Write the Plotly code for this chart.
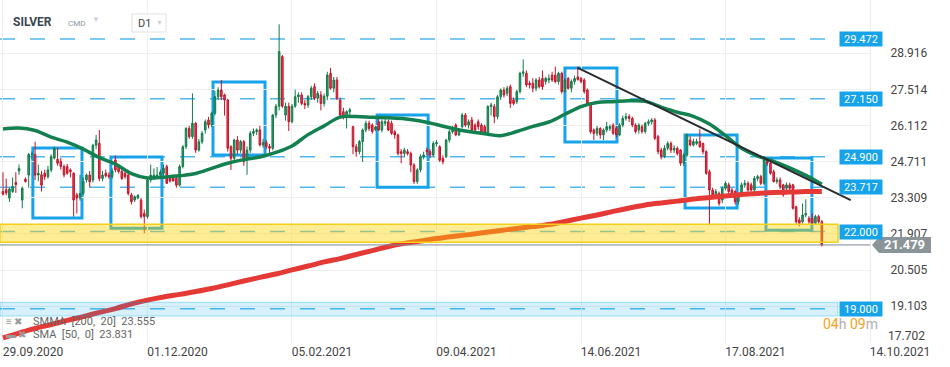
import plotly.graph_objects as go

# ---------------- data ----------------
opens = [23.55, 23.62, 23.30, 23.55, 23.90, 24.35, 23.22, 24.03, 24.19, 24.99,
         24.99, 24.19, 24.20, 24.26, 24.13, 24.39, 24.85, 24.80, 24.72, 24.52,
         24.52, 24.39, 24.26, 23.42, 23.30, 23.48, 24.00, 24.19, 24.00, 25.35,
         25.42, 24.06, 24.26, 24.19, 24.13, 24.78, 24.52, 24.33, 24.26, 24.19,
         23.42, 23.22, 23.30, 23.22, 22.70, 22.58, 24.00, 24.06, 24.13, 24.19,
         24.26, 24.52, 24.09, 24.09, 24.06, 23.80, 24.52, 25.29, 26.00, 25.68,
         26.20, 25.16, 25.48, 25.94, 26.33, 26.14, 26.59, 27.23, 27.49, 27.30,
         27.10, 25.29, 24.84, 25.55, 25.16, 25.49, 24.78, 25.16, 25.81, 25.88,
         25.94, 25.36, 25.45, 25.30, 25.23, 26.52, 26.86, 28.79, 26.52, 26.86,
         26.26, 26.86, 27.23, 27.30, 26.97, 26.91, 27.23, 27.62, 27.17, 27.30,
         26.97, 27.25, 28.14, 27.56, 27.88, 27.10, 26.65, 26.46, 26.65, 26.07,
         25.29, 25.10, 25.49, 25.94, 26.20, 26.13, 25.95, 26.26, 25.94, 26.20,
         26.26, 26.20, 25.87, 25.75, 25.10, 25.03, 25.10, 25.03, 24.58, 23.94,
         24.39, 24.90, 25.16, 25.10, 24.97, 25.40, 25.29, 24.84, 24.90, 25.55,
         25.87, 26.13, 25.75, 26.07, 26.52, 26.13, 26.33, 26.13, 26.26, 26.13,
         26.07, 25.81, 26.85, 26.85, 26.46, 27.23, 27.49, 27.36, 27.62, 27.10,
         27.04, 27.43, 28.14, 28.14, 27.75, 27.75, 27.56, 27.88, 27.94, 27.82,
         27.88, 28.07, 28.07, 27.82, 28.14, 27.43, 27.94, 27.56, 27.82, 28.00,
         27.94, 27.88, 27.49, 26.97, 25.94, 25.81, 26.00, 25.75, 25.94, 26.00,
         26.13, 26.00, 25.75, 26.13, 26.39, 26.46, 26.39, 26.13, 25.94, 26.07,
         25.88, 26.20, 26.26, 26.33, 25.68, 25.16, 24.91, 25.23, 25.42, 25.16,
         25.23, 25.16, 24.65, 24.97, 25.55, 25.36, 25.42, 25.49, 25.42, 25.10,
         24.32, 23.61, 23.42, 23.48, 23.22, 23.68, 23.81, 23.61, 23.55, 23.16,
         23.42, 23.81, 23.87, 23.81, 23.61, 24.06, 24.13, 23.87, 24.78, 24.65,
         24.32, 23.94, 24.00, 23.81, 23.68, 23.81, 23.81, 22.96, 22.45, 22.38,
         22.64, 22.51, 22.51, 22.32, 22.58, 22.38]
highs = [24.30, 24.05, 23.70, 24.10, 24.30, 24.60, 23.75, 24.10, 25.05, 25.10,
         25.49, 24.60, 24.35, 24.40, 24.55, 25.00, 25.30, 25.25, 24.85, 24.60,
         24.62, 24.45, 24.30, 23.50, 24.20, 24.10, 24.25, 24.35, 25.40, 25.75,
         25.94, 24.35, 24.40, 24.30, 24.45, 24.95, 24.60, 24.45, 24.35, 24.25,
         23.50, 23.40, 23.45, 23.30, 22.85, 24.05, 24.60, 24.45, 24.50, 24.40,
         24.60, 24.60, 24.15, 24.20, 24.15, 24.60, 25.35, 26.05, 26.10, 27.36,
         26.25, 25.60, 25.90, 26.35, 26.45, 26.65, 27.45, 27.60, 27.88, 27.35,
         27.15, 25.35, 25.60, 25.70, 25.55, 25.55, 25.30, 25.90, 26.00, 26.00,
         26.10, 25.60, 25.55, 25.40, 26.55, 26.95, 30.04, 28.85, 27.00, 27.00,
         26.95, 27.50, 27.40, 27.40, 27.10, 27.30, 27.65, 27.75, 27.45, 27.45,
         27.35, 28.20, 28.35, 28.00, 28.00, 27.20, 26.80, 26.70, 26.80, 26.10,
         25.40, 25.55, 26.00, 26.30, 26.30, 26.20, 26.10, 26.40, 26.35, 26.45,
         26.35, 26.30, 25.95, 25.80, 25.20, 25.25, 25.20, 25.10, 24.65, 24.45,
         25.00, 25.10, 25.25, 25.20, 25.50, 25.55, 25.35, 24.95, 25.60, 25.95,
         26.10, 26.20, 26.00, 26.60, 26.60, 26.35, 26.45, 26.20, 26.35, 26.20,
         26.15, 26.90, 27.00, 26.95, 27.30, 27.55, 27.60, 27.65, 27.70, 27.20,
         27.50, 28.20, 28.68, 28.25, 27.85, 27.95, 27.95, 28.00, 28.25, 28.00,
         28.10, 28.20, 28.40, 28.20, 28.20, 27.95, 28.00, 27.90, 28.05, 28.40,
         28.00, 27.95, 27.55, 27.00, 26.00, 26.10, 26.05, 26.00, 26.25, 26.15,
         26.20, 26.10, 26.20, 26.50, 26.60, 26.55, 26.45, 26.20, 26.20, 26.15,
         26.25, 26.35, 26.40, 26.40, 25.75, 25.25, 25.35, 25.50, 25.50, 25.35,
         25.30, 25.20, 25.05, 25.80, 25.70, 25.60, 25.60, 25.97, 25.45, 25.15,
         24.40, 23.70, 23.65, 23.55, 23.75, 23.95, 23.90, 23.70, 23.60, 23.50,
         23.90, 24.00, 23.95, 23.90, 24.15, 24.20, 24.20, 24.85, 24.85, 24.75,
         24.40, 24.10, 24.10, 23.85, 23.90, 23.90, 23.85, 23.00, 22.55, 23.09,
         23.25, 22.60, 22.70, 22.65, 22.65, 22.45]
lows = [23.40, 23.40, 23.15, 23.50, 23.50, 24.20, 22.90, 23.90, 23.70, 24.80,
        24.00, 23.95, 23.55, 24.00, 24.05, 24.30, 24.80, 24.55, 24.40, 24.10,
        24.20, 24.10, 22.58, 22.70, 23.20, 23.40, 23.90, 23.70, 23.90, 25.20,
        23.95, 23.95, 24.10, 24.05, 24.05, 24.30, 24.25, 24.00, 24.05, 23.40,
        23.05, 23.15, 23.25, 22.50, 21.93, 22.50, 23.90, 24.00, 24.05, 24.10,
        24.15, 23.85, 23.90, 23.95, 23.70, 23.75, 24.45, 25.20, 25.60, 25.60,
        25.05, 25.10, 25.40, 25.80, 26.00, 26.05, 26.50, 27.10, 27.10, 26.50,
        25.10, 24.39, 24.70, 25.00, 25.05, 24.55, 24.20, 25.05, 25.70, 25.75,
        25.30, 25.25, 25.20, 24.95, 25.15, 26.40, 26.70, 26.80, 26.30, 25.90,
        26.20, 26.80, 27.00, 26.90, 26.75, 26.80, 27.10, 27.10, 27.00, 26.70,
        26.85, 27.10, 27.50, 27.40, 27.10, 26.40, 26.35, 26.00, 26.40, 25.00,
        24.90, 25.00, 24.70, 25.85, 25.90, 25.80, 25.90, 25.90, 25.85, 26.10,
        25.90, 25.75, 25.60, 24.95, 24.65, 24.90, 24.95, 24.30, 23.85, 23.85,
        24.30, 24.80, 24.95, 24.85, 24.90, 25.30, 24.70, 24.60, 24.85, 25.45,
        25.80, 25.70, 25.70, 26.00, 26.05, 26.00, 25.85, 25.80, 25.95, 25.80,
        25.75, 25.75, 26.50, 26.20, 26.35, 27.10, 27.20, 27.25, 26.80, 26.90,
        26.95, 27.35, 28.00, 27.60, 27.55, 27.40, 27.45, 27.55, 27.50, 27.70,
        27.75, 27.80, 27.75, 27.70, 27.35, 27.40, 27.50, 27.40, 27.70, 27.85,
        27.75, 27.35, 26.90, 25.80, 25.55, 25.70, 25.60, 25.55, 25.85, 25.90,
        25.75, 25.65, 25.70, 26.05, 26.30, 26.25, 26.05, 25.80, 25.80, 25.80,
        25.80, 26.10, 26.15, 25.55, 25.00, 24.80, 24.85, 25.15, 25.05, 25.05,
        24.95, 24.55, 24.55, 24.90, 25.30, 25.30, 25.35, 25.25, 25.00, 24.20,
        22.25, 23.30, 23.30, 23.00, 23.10, 23.60, 23.45, 23.35, 23.05, 23.05,
        23.35, 23.70, 23.55, 23.55, 23.55, 23.95, 23.80, 23.80, 24.55, 24.20,
        23.90, 23.85, 23.65, 23.35, 23.55, 23.60, 22.85, 22.30, 22.20, 22.30,
        22.55, 22.30, 22.25, 22.25, 22.30, 21.42]
closes = [23.45, 23.50, 23.65, 23.75, 23.82, 24.45, 23.68, 23.94, 24.99, 25.00,
          24.19, 24.26, 23.80, 24.13, 24.39, 24.91, 25.22, 24.65, 24.52, 24.20,
          24.26, 24.33, 23.22, 23.30, 23.48, 23.95, 24.19, 23.93, 25.35, 25.55,
          24.06, 24.19, 24.16, 24.13, 24.35, 24.39, 24.33, 24.06, 24.13, 23.48,
          23.16, 23.35, 23.40, 22.58, 22.58, 24.00, 24.19, 24.19, 24.19, 24.30,
          24.45, 23.87, 23.96, 23.96, 23.80, 24.52, 25.29, 26.00, 25.68, 26.20,
          25.16, 25.48, 25.81, 26.26, 26.14, 26.59, 27.23, 27.49, 27.23, 27.10,
          25.23, 24.84, 25.55, 25.16, 25.49, 24.71, 25.16, 25.81, 25.88, 25.94,
          25.36, 25.45, 25.30, 25.23, 26.52, 26.86, 28.98, 26.86, 26.86, 26.26,
          26.86, 27.23, 27.30, 26.97, 26.91, 27.23, 27.56, 27.17, 27.36, 26.97,
          27.25, 28.07, 27.56, 27.88, 27.17, 26.52, 26.46, 26.65, 26.72, 25.29,
          25.10, 25.49, 25.94, 26.20, 26.00, 25.88, 26.05, 25.94, 26.26, 26.26,
          25.94, 25.81, 25.75, 25.03, 25.03, 25.16, 25.03, 24.58, 23.94, 24.39,
          24.90, 24.97, 25.10, 24.97, 25.42, 25.45, 24.77, 24.71, 25.55, 25.87,
          26.00, 25.75, 25.94, 26.52, 26.13, 26.26, 25.94, 25.94, 26.07, 25.87,
          25.81, 26.85, 26.91, 26.46, 27.23, 27.49, 27.30, 27.56, 26.97, 26.97,
          27.43, 28.14, 28.20, 27.69, 27.69, 27.56, 27.88, 27.62, 27.62, 27.94,
          27.94, 27.88, 27.82, 28.14, 27.43, 27.88, 27.56, 27.82, 27.94, 27.90,
          27.82, 27.43, 26.97, 25.87, 25.81, 26.00, 25.75, 25.94, 26.07, 26.07,
          25.81, 25.75, 26.13, 26.39, 26.46, 26.39, 26.13, 25.88, 26.13, 25.88,
          26.20, 26.26, 26.33, 25.62, 25.10, 24.91, 25.23, 25.42, 25.16, 25.23,
          25.03, 24.65, 24.97, 25.75, 25.36, 25.49, 25.49, 25.29, 25.10, 24.26,
          23.61, 23.42, 23.55, 23.09, 23.68, 23.87, 23.55, 23.42, 23.16, 23.42,
          23.81, 23.87, 23.61, 23.61, 24.06, 24.13, 23.87, 24.78, 24.65, 24.26,
          23.94, 24.00, 23.74, 23.42, 23.81, 23.68, 22.90, 22.38, 22.32, 22.64,
          22.70, 22.38, 22.32, 22.58, 22.38, 21.479]

# indicator values, sampled every 5th bar
indicator_bars = list(range(0, 256, 5))
sma50 = [25.98, 26.02, 25.92, 25.66, 25.47, 25.20, 24.87, 24.62, 24.25, 24.08,
         24.11, 24.16, 24.25, 24.45, 24.65, 24.79, 24.89, 25.07, 25.32, 25.76,
         26.10, 26.44, 26.46, 26.43, 26.41, 26.38, 26.29, 26.15, 26.00, 25.88,
         25.79, 25.72, 25.88, 26.08, 26.25, 26.55, 26.85, 27.01, 27.04, 27.07,
         27.05, 26.83, 26.63, 26.47, 26.17, 25.72, 25.23, 24.93, 24.72, 24.47,
         24.18, 23.831]
smma200 = [17.87, 18.06, 18.24, 18.39, 18.55, 18.70, 18.86, 19.01, 19.19, 19.34,
           19.46, 19.56, 19.67, 19.79, 19.93, 20.08, 20.22, 20.35, 20.51, 20.66,
           20.82, 20.95, 21.11, 21.26, 21.42, 21.54, 21.63, 21.73, 21.81, 21.88,
           21.96, 22.04, 22.12, 22.19, 22.27, 22.39, 22.52, 22.64, 22.78, 22.91,
           23.03, 23.11, 23.18, 23.26, 23.32, 23.38, 23.44, 23.48, 23.51, 23.53,
           23.55, 23.555]

trend_bars = [179, 264]
trend_prices = [28.35, 23.22]

levels = [29.472, 27.150, 24.900, 23.717, 22.000, 19.000]

# consolidation boxes: start bar, end bar, top, bottom
box_start = [9.3, 33.6, 65.4, 116.5, 175.0, 212.4, 237.6]
box_end = [24.6, 49.5, 81.6, 132.4, 191.2, 228.6, 251.9]
box_top = [25.24, 24.89, 27.80, 26.52, 28.35, 25.75, 24.85]
box_bottom = [22.52, 22.13, 24.97, 23.72, 25.47, 22.91, 22.05]

support_zone = [21.58, 22.28]
target_zone = [18.72, 19.254]

date_tick_bars = [0, 45, 90, 135, 180, 225, 270]
date_labels = ["29.09.2020", "01.12.2020", "05.02.2021", "09.04.2021",
               "14.06.2021", "17.08.2021", "14.10.2021"]
price_ticks = [28.916, 27.514, 26.112, 24.711, 23.309, 21.907, 20.505, 19.103, 17.702]

last_price = closes[-1]
sma_last = sma50[-1]
smma_last = smma200[-1]

# ---------------- figure ----------------
PLOT_W, PLOT_H = 870, 343
Y_RANGE = [17.674, 30.984]


def px_x(x):
    return x / PLOT_W


def px_y(y):
    return 1 - y / PLOT_H


BLUE = "#16a3ea"
bars = list(range(len(closes)))

fig = go.Figure()
fig.add_trace(go.Candlestick(
    x=bars, open=opens, high=highs, low=lows, close=closes,
    increasing=dict(line=dict(color="#137a4a", width=1), fillcolor="#2f9e6c"),
    decreasing=dict(line=dict(color="#c3142a", width=1), fillcolor="#e5404f"),
    whiskerwidth=0, hoverinfo="skip"))
fig.add_trace(go.Scatter(x=indicator_bars, y=smma200, mode="lines",
                         line=dict(color="#e53935", width=5, shape="spline"), hoverinfo="skip"))
fig.add_trace(go.Scatter(x=indicator_bars, y=sma50, mode="lines",
                         line=dict(color="#12804f", width=3.5, shape="spline"), hoverinfo="skip"))
fig.add_trace(go.Scatter(x=trend_bars, y=trend_prices, mode="lines",
                         line=dict(color="#2a2d30", width=2), hoverinfo="skip"))

shapes = []
for lv in levels:
    shapes.append(dict(type="line", xref="paper", yref="y", x0=0, x1=px_x(838), y0=lv, y1=lv,
                       line=dict(color="#4db8f0", width=1.5, dash="15px,15px"), layer="below"))
for x0, x1, t, b in zip(box_start, box_end, box_top, box_bottom):
    shapes.append(dict(type="rect", xref="x", yref="y", x0=x0, x1=x1, y0=b, y1=t,
                       line=dict(color=BLUE, width=3), fillcolor="rgba(0,0,0,0)", layer="below"))
shapes.append(dict(type="rect", xref="paper", yref="y", x0=0, x1=px_x(838),
                   y0=support_zone[0], y1=support_zone[1],
                   fillcolor="rgba(253,212,0,0.42)", line=dict(color="#f5cf1a", width=1.5), layer="above"))
shapes.append(dict(type="rect", xref="paper", yref="y", x0=0, x1=px_x(838),
                   y0=target_zone[0], y1=target_zone[1],
                   fillcolor="rgba(3,169,244,0.16)", line=dict(color="rgba(3,169,244,0.35)", width=1), layer="above"))
shapes.append(dict(type="line", xref="paper", yref="y", x0=0, x1=1, y0=last_price, y1=last_price,
                   line=dict(color="#7d8790", width=1), layer="above"))
dy = 8 / PLOT_H * (Y_RANGE[1] - Y_RANGE[0])
xt, xb, xr = px_x(872), px_x(879), px_x(931)
shapes.append(dict(type="path", xref="paper", yref="y",
                   path=f"M {xt},{last_price} L {xb},{last_price + dy} L {xr},{last_price + dy} "
                        f"L {xr},{last_price - dy} L {xb},{last_price - dy} Z",
                   fillcolor="#8a9499", line=dict(width=0), layer="above"))
shapes.append(dict(type="rect", xref="paper", yref="paper", x0=px_x(132), x1=px_x(166),
                   y0=px_y(32), y1=px_y(14), fillcolor="white",
                   line=dict(color="#dde1e6", width=1), layer="above"))

annotations = []
for lv in levels:
    annotations.append(dict(xref="paper", yref="y", x=px_x(839), y=lv, xanchor="left", yanchor="middle",
                            text=f"{lv:.3f}", showarrow=False, bgcolor=BLUE, width=40, height=12,
                            borderpad=1, font=dict(color="white", size=11)))
annotations.append(dict(xref="paper", yref="y", x=px_x(905), y=last_price, xanchor="center",
                        yanchor="middle", text=f"<b>{last_price:.3f}</b>", showarrow=False,
                        font=dict(color="white", size=13)))
# bottom price tick drawn inside the plot like the reference
annotations.append(dict(xref="paper", yref="paper", x=px_x(886), y=px_y(336), xanchor="left",
                        yanchor="middle", text=f"{price_ticks[-1]:.3f}", showarrow=False,
                        font=dict(color="#444", size=12)))


def txt(x, y, text, size, color):
    return dict(xref="paper", yref="paper", x=px_x(x), y=px_y(y), xanchor="left", yanchor="middle",
                text=text, showarrow=False, font=dict(color=color, size=size))


annotations += [
    txt(11, 22, "<b>SILVER</b>", 12, "#3c4650"),
    txt(66, 23, "CMD", 8, "#8a96a0"),
    txt(90, 20, "▼", 8, "#cdd1d6"),
    txt(136, 23, "D1", 11, "#444"),
    txt(154, 23, "▼", 7, "#cdd1d6"),
    txt(4, 321, "≡ ✖", 10, "#9a9a9a"),
    txt(31, 321, f"SMMA  [200,  20]  {smma_last:.3f}", 11, "#666"),
    txt(4, 334, "▬ ✖", 10, "#9a9a9a"),
    txt(31, 334, f"SMA  [50,  0]  {sma_last:.3f}", 11, "#666"),
    txt(821, 324, '<span style="color:#f7a21b">04</span><span style="color:#b0b0b0">h</span> '
                  '<span style="color:#f7a21b">09</span><span style="color:#b0b0b0">m</span>', 14, "#b0b0b0"),
]

fig.update_layout(
    width=950, height=367,
    margin=dict(l=0, r=80, t=0, b=24),
    paper_bgcolor="white", plot_bgcolor="white", showlegend=False,
    font=dict(family="Roboto, sans-serif", color="#444", size=12),
    hovermode=False,
    shapes=shapes, annotations=annotations,
    xaxis=dict(type="linear", range=[-0.93, 270.0], tickmode="array",
               tickvals=date_tick_bars, ticktext=date_labels,
               showgrid=True, gridcolor="#efefef", gridwidth=1, zeroline=False,
               rangeslider=dict(visible=False), ticks="", ticklabelshift=30,
               tickfont=dict(size=12, color="#444"), fixedrange=True),
    yaxis=dict(side="right", range=Y_RANGE, tickmode="array",
               tickvals=price_ticks, ticktext=[f"{v:.3f}" for v in price_ticks[:-1]] + [""],
               showgrid=True, gridcolor="#efefef", zeroline=False,
               ticks="outside", ticklen=17, tickcolor="rgba(0,0,0,0)",
               showline=True, linecolor="#ececec",
               tickfont=dict(size=12, color="#444"), fixedrange=True),
)

fig.write_html("out.html", config={"displayModeBar": False},
               post_script="document.body.style.margin='0px';")
